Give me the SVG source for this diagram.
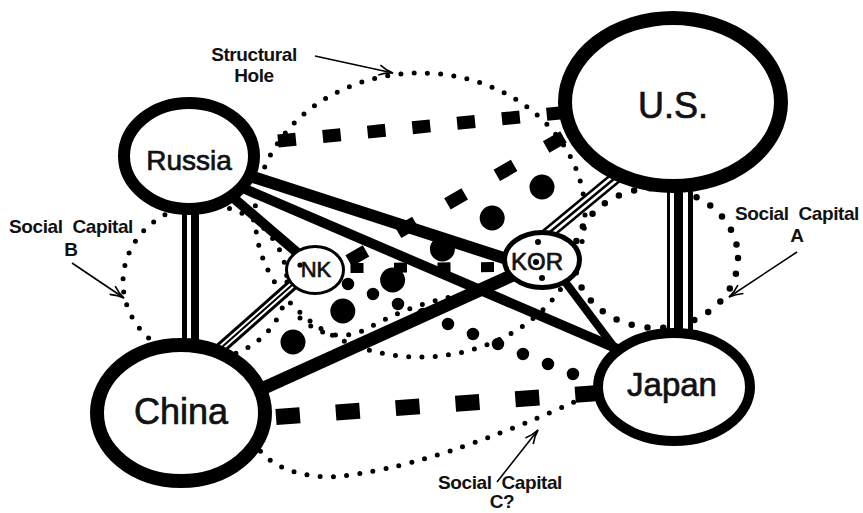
<svg xmlns="http://www.w3.org/2000/svg" width="863" height="513" viewBox="0 0 863 513">
<style>
.node{fill:#fff;stroke:#000}
.lbl{font-family:"Liberation Sans",Arial,sans-serif;fill:#111;stroke:#111;stroke-width:0.7;text-anchor:middle}
.ann{font-family:"Liberation Sans",Arial,sans-serif;font-weight:bold;font-size:19px;letter-spacing:-0.4px;word-spacing:5px;fill:#111;text-anchor:middle}
.dots{fill:none;stroke:#000;stroke-width:5;stroke-linecap:round;stroke-dasharray:0 13.3}
.solid{stroke:#000;fill:none}
.dash{stroke:#000;fill:none;stroke-linecap:butt}
.big{stroke:#000;fill:none;stroke-linecap:round}
.arrow{stroke:#000;stroke-width:1.6;fill:none;marker-end:url(#arr)}
</style>
<defs>
<marker id="arr" viewBox="0 0 16 12" refX="15" refY="6" markerWidth="16" markerHeight="12" markerUnits="userSpaceOnUse" orient="auto">
<path d="M1,1 Q8,5 15,6 Q8,7 1,11" fill="none" stroke="#000" stroke-width="1.6"/>
</marker>
</defs>
<rect width="863" height="513" fill="#fff"/>

<g id="groups">
<ellipse id="structural-hole" class="dots" cx="420" cy="215" rx="165" ry="142"/>
<ellipse id="social-capital-b" class="dots" cx="205" cy="282" rx="82" ry="77"/>
<ellipse id="social-capital-a" class="dots" cx="656" cy="258" rx="82" ry="70" style="stroke-width:6.5;stroke-dasharray:0 16"/>
<path id="social-capital-c" class="dots" d="M248,428 Q262,475 330,477 Q430,470 600,390"/>
<path class="dots" d="M300,318 Q335,348 372,326 Q420,300 470,294"/>
</g>

<g id="connectors">
<line x1="190.5" y1="205" x2="190.5" y2="350" stroke="#000" stroke-width="17"/>
<line x1="189" y1="205" x2="189" y2="350" stroke="#fff" stroke-width="4"/>
<line x1="205" y1="362" x2="300" y2="278" stroke="#000" stroke-width="12"/>
<line x1="205" y1="362" x2="300" y2="278" stroke="#fff" stroke-width="6"/>
<line x1="205" y1="362" x2="300" y2="278" stroke="#000" stroke-width="2"/>
<line x1="545" y1="236" x2="620" y2="174" stroke="#000" stroke-width="13"/>
<line x1="545" y1="236" x2="620" y2="174" stroke="#fff" stroke-width="8"/>
<line x1="545" y1="236" x2="620" y2="174" stroke="#000" stroke-width="2.5"/>
<line x1="680" y1="180" x2="680" y2="340" stroke="#000" stroke-width="26"/>
<line x1="672" y1="180" x2="672" y2="340" stroke="#fff" stroke-width="4"/>
<line x1="685.5" y1="180" x2="685.5" y2="340" stroke="#fff" stroke-width="5"/>
<line class="solid" x1="250" y1="176" x2="510" y2="260" stroke-width="12"/>
<line class="solid" x1="245" y1="189" x2="620" y2="350" stroke-width="10"/>
<line class="solid" x1="230" y1="195" x2="300" y2="255" stroke-width="10"/>
<line class="solid" x1="255" y1="392" x2="515" y2="274" stroke-width="13"/>
<line class="solid" x1="560" y1="275" x2="620" y2="355" stroke-width="8"/>
<path class="dash" d="M278,141 L560,113" stroke-width="13" stroke-dasharray="18 27"/>
<path class="dash" d="M276,417 L600,393" stroke-width="16" stroke-dasharray="24 36"/>
<path class="dash" d="M563.5,137 L340,266" stroke-width="13" stroke-dasharray="20 37"/>
<path class="dash" d="M350.5,268 L500,267" stroke-width="10" stroke-dasharray="13 30.5"/>
<path class="big" d="M293,342 L542,187" stroke-width="25" stroke-dasharray="0 58.66"/>
<path class="big" d="M348,284 L573,374" stroke-width="12.5" stroke-dasharray="0 26.92"/>
</g>

<g id="russia">
<ellipse class="node" cx="189" cy="156" rx="65" ry="53" stroke-width="12"/>
<text class="lbl" x="189" y="170" font-size="28">Russia</text>
</g>
<g id="us">
<ellipse class="node" cx="673" cy="102" rx="108" ry="84" stroke-width="14"/>
<text class="lbl" x="673" y="118" font-size="36">U.S.</text>
</g>
<g id="china">
<ellipse class="node" cx="181" cy="413" rx="84" ry="68" stroke-width="14"/>
<text class="lbl" x="181" y="424" font-size="36">China</text>
</g>
<g id="japan">
<ellipse class="node" cx="674" cy="387" rx="76" ry="54" stroke-width="10"/>
<text class="lbl" x="672" y="396" font-size="33">Japan</text>
</g>
<g id="nk">
<ellipse class="node" cx="315" cy="270" rx="28.5" ry="23.5" stroke-width="3"/>
<text class="lbl" x="316" y="277" font-size="22">NK</text>
<circle cx="300" cy="265" r="2.6"/>
</g>
<g id="kor">
<ellipse class="node" cx="542" cy="260" rx="37.5" ry="27.5" stroke-width="5"/>
<text class="lbl" x="537" y="270" font-size="24">KOR</text>
<circle cx="538" cy="242" r="3"/>
<circle cx="536" cy="262" r="3"/>
<circle cx="542" cy="278" r="3"/>
</g>

<g id="annotations">
<text class="ann" x="254" y="61">Structural</text>
<text class="ann" x="254" y="82">Hole</text>
<line class="arrow" x1="315" y1="56" x2="393" y2="73"/>
<text class="ann" x="71" y="233">Social Capital</text>
<text class="ann" x="71" y="256">B</text>
<line class="arrow" x1="72" y1="263" x2="124" y2="298"/>
<text class="ann" x="797" y="220">Social Capital</text>
<text class="ann" x="797" y="242">A</text>
<line class="arrow" x1="797" y1="252" x2="729" y2="297"/>
<text class="ann" x="500" y="489">Social Capital</text>
<text class="ann" x="502" y="508">C?</text>
<line class="arrow" x1="497" y1="482" x2="538" y2="430"/>
</g>
</svg>
